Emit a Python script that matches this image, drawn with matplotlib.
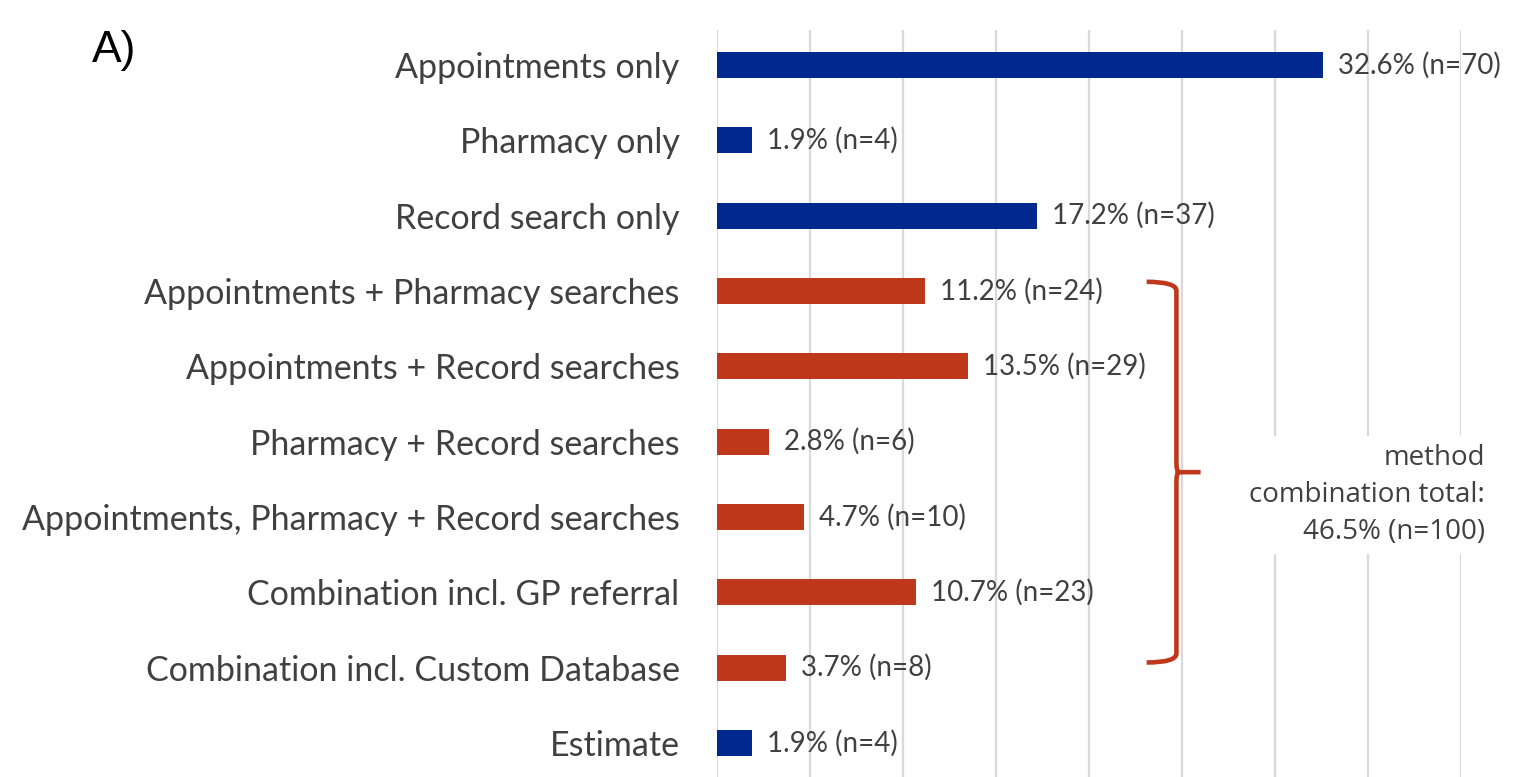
import numpy as np
import matplotlib.pyplot as plt
from matplotlib.path import Path
from matplotlib.patches import PathPatch

# dados do gráfico
categorias = ['Appointments only', 'Pharmacy only', 'Record search only',
              'Appointments + Pharmacy searches', 'Appointments + Record searches',
              'Pharmacy + Record searches', 'Appointments, Pharmacy + Record searches',
              'Combination incl. GP referral', 'Combination incl. Custom Database',
              'Estimate']
percentagens = [32.6, 1.9, 17.2, 11.2, 13.5, 2.8, 4.7, 10.7, 3.7, 1.9]
contagens = [70, 4, 37, 24, 29, 6, 10, 23, 8, 4]
combinacao = [False, False, False, True, True, True, True, True, True, False]
total_texto = 'method\ncombination total:\n46.5% (n=100)'

azul = '#00288F'
vermelho = '#C0381C'
cinza_texto = '#404040'

fig = plt.figure(figsize=(15.15, 7.77), dpi=100)
ax = fig.add_axes([717 / 1515, 0, 744 / 1515, 747 / 777])

y = np.arange(len(categorias))
cores = [vermelho if c else azul for c in combinacao]
altura = 0.345
ax.barh(y, percentagens, height=altura, color=cores, zorder=3)

ax.set_xlim(0, 40)
ax.set_ylim(9.45, -0.465)
ax.set_xticks(np.arange(0, 41, 5))
ax.xaxis.grid(True, color='#D9D9D9', linewidth=1.6, zorder=0)
ax.tick_params(axis='x', length=0, labelbottom=False)
ax.tick_params(axis='y', length=0, pad=27)
ax.set_yticks(y)
ax.set_yticklabels(categorias, fontsize=24.5, color=cinza_texto, family='Lato')
for s in ax.spines.values():
    s.set_visible(False)

# rótulos das barras
for yi, p, n in zip(y, percentagens, contagens):
    ax.annotate(f'{p}% (n={n})', (p, yi), xytext=(15, 0), textcoords='offset pixels',
                va='center', ha='left', fontsize=20, color=cinza_texto,
                family='Lato', zorder=4, annotation_clip=False)

# chave das combinações
grupo = y[np.array(combinacao)]
y0 = grupo.min() - altura / 2 + 0.05
y1 = grupo.max() - 0.07
ym = (y0 + y1) / 2
xl, xv, xt = 23.1, 24.7, 26.0
r = 0.12
verts = [(xl, y0), (xv, y0), (xv, y0 + r),
         (xv, ym - r), (xv, ym), (xv + 0.15, ym),
         (xt, ym),
         (xv + 0.15, ym), (xv, ym), (xv, ym + r),
         (xv, y1 - r), (xv, y1), (xl, y1)]
codes = [Path.MOVETO, Path.CURVE3, Path.CURVE3,
         Path.LINETO, Path.CURVE3, Path.CURVE3,
         Path.LINETO,
         Path.MOVETO, Path.CURVE3, Path.CURVE3,
         Path.LINETO, Path.CURVE3, Path.CURVE3]
ax.add_patch(PathPatch(Path(verts, codes), fill=False, edgecolor=vermelho,
                       linewidth=3.3, zorder=4, clip_on=False, capstyle='butt'))

ax.text(41.3, ym + 0.30, total_texto, ha='right', va='center', fontsize=20,
        color=cinza_texto, family='Open Sans', linespacing=1.42, zorder=5,
        clip_on=False,
        bbox=dict(facecolor='white', edgecolor='none', pad=6))

fig.text(92 / 1515, 1 - 62 / 777, 'A)', fontsize=32, family='Liberation Sans',
         color='black', ha='left', va='baseline')

fig.savefig('out.png', dpi=100)
